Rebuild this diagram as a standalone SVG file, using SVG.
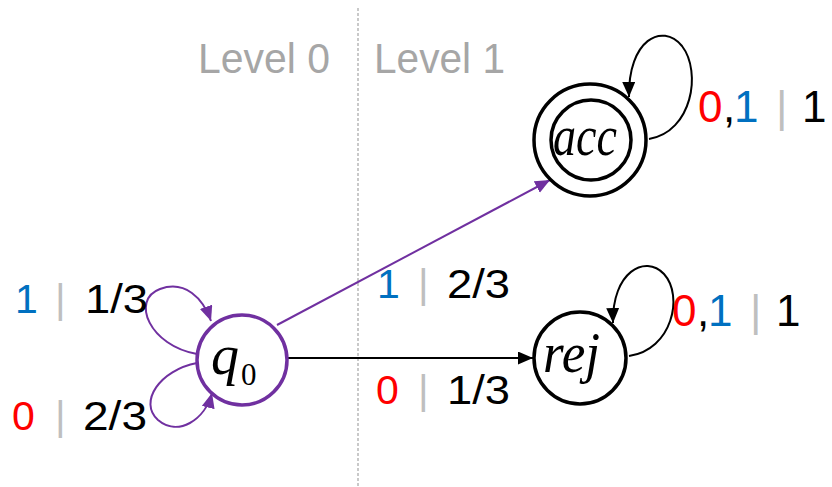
<svg xmlns="http://www.w3.org/2000/svg" width="832" height="487" viewBox="0 0 832 487">
<style>
.lbl{font-family:"Liberation Sans",Arial,sans-serif;font-size:41px;fill:#000}
.big{font-size:44px}
.red{fill:#FF0000}.blue{fill:#0070C0}.bar{fill:#BFBFBF}
.lvl{font-family:"Liberation Sans",Arial,sans-serif;font-size:42px;fill:#A6A6A6}
.math{font-family:"Liberation Serif","Times New Roman",serif;font-style:italic;font-size:56px;fill:#000}
.node{fill:#fff;stroke:#000;stroke-width:3.5}
.edge{fill:none;stroke-width:2}
</style>
<defs>
<marker id="ab" markerUnits="userSpaceOnUse" markerWidth="16" markerHeight="14" refX="15" refY="6.5" orient="auto"><path d="M0,0 L15,6.5 L0,13 z" fill="#000"/></marker>
<marker id="ap" markerUnits="userSpaceOnUse" markerWidth="16" markerHeight="14" refX="15" refY="6.5" orient="auto"><path d="M0,0 L15,6.5 L0,13 z" fill="#7030A0"/></marker>
</defs>
<rect width="832" height="487" fill="#fff"/>
<line x1="358" y1="8" x2="358" y2="487" stroke="#A6A6A6" stroke-width="1.2" stroke-dasharray="3,2"/>
<text class="lvl" x="198" y="73" textLength="132" lengthAdjust="spacingAndGlyphs">Level 0</text>
<text class="lvl" x="374" y="73" textLength="131" lengthAdjust="spacingAndGlyphs">Level 1</text>
<g id="connectors">
<path class="edge" stroke="#7030A0" d="M197 354 C150 346 130 300 160 289 C185 280 203 298 211 321" marker-end="url(#ap)"/>
<path class="edge" stroke="#7030A0" d="M197 363 C160 370 138 402 158 420 C178 437 205 420 212 393" marker-end="url(#ap)"/>
<path class="edge" stroke="#7030A0" d="M277 325 L550 180" marker-end="url(#ap)"/>
<path class="edge" stroke="#000" d="M287 358 L533 358" marker-end="url(#ab)"/>
<path class="edge" stroke="#000" d="M649 139 C692 132 702 72 682 46 C662 22 628 40 629 97" marker-end="url(#ab)"/>
<path class="edge" stroke="#000" d="M629 356 C672 350 684 296 664 274 C645 254 612 272 613 323" marker-end="url(#ab)"/>
</g>
<g id="q0">
<circle cx="242" cy="360" r="45" fill="#fff" stroke="#7030A0" stroke-width="3.5"/>
<text class="math" x="211" y="374" font-size="50">q</text>
<text x="241" y="385" font-family="Liberation Serif, Times New Roman, serif" font-size="31" fill="#000">0</text>
</g>
<g id="acc">
<circle class="node" cx="590" cy="140" r="56"/>
<circle class="node" cx="591" cy="140" r="40"/>
<text class="math" x="553" y="155" textLength="64" lengthAdjust="spacingAndGlyphs">acc</text>
</g>
<g id="rej">
<circle class="node" cx="580" cy="358" r="46"/>
<text class="math" x="543" y="372" textLength="57" lengthAdjust="spacingAndGlyphs">rej</text>
</g>
<g id="labels">
<text class="lbl" y="313"><tspan class="blue" x="15">1</tspan><tspan class="bar" x="55">|</tspan><tspan x="85" textLength="63" lengthAdjust="spacingAndGlyphs">1/3</tspan></text>
<text class="lbl" y="430"><tspan class="red" x="12">0</tspan><tspan class="bar" x="55">|</tspan><tspan x="83" textLength="64" lengthAdjust="spacingAndGlyphs">2/3</tspan></text>
<text class="lbl" y="298"><tspan class="blue" x="377">1</tspan><tspan class="bar" x="418">|</tspan><tspan x="447" textLength="63" lengthAdjust="spacingAndGlyphs">2/3</tspan></text>
<text class="lbl" y="404"><tspan class="red" x="376">0</tspan><tspan class="bar" x="418">|</tspan><tspan x="447" textLength="63" lengthAdjust="spacingAndGlyphs">1/3</tspan></text>
<text class="lbl big" y="122"><tspan class="red" x="698">0</tspan><tspan x="723">,</tspan><tspan class="blue" x="734">1</tspan><tspan class="bar" x="776">|</tspan><tspan x="802">1</tspan></text>
<text class="lbl big" y="326"><tspan class="red" x="672">0</tspan><tspan x="697">,</tspan><tspan class="blue" x="708">1</tspan><tspan class="bar" x="750">|</tspan><tspan x="776">1</tspan></text>
</g>
</svg>
